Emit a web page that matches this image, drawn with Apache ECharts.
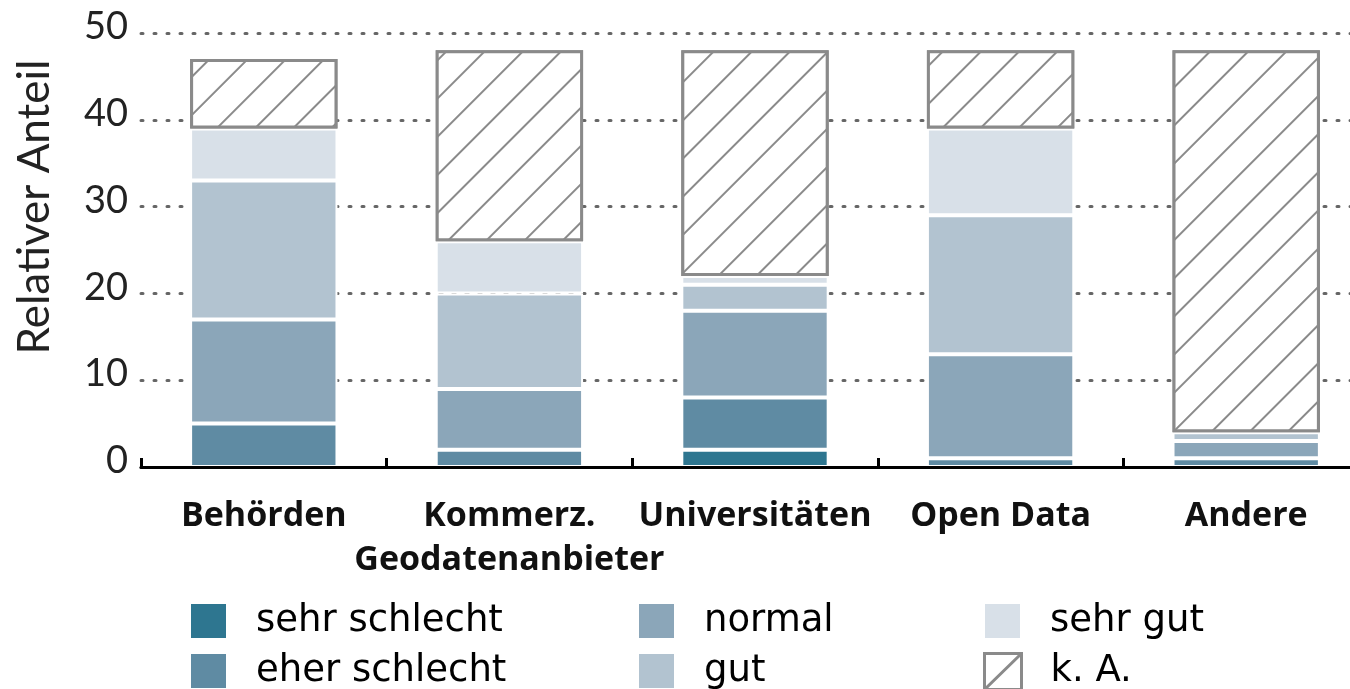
<!DOCTYPE html>
<html>
<head>
<meta charset="utf-8">
<script src="https://cdn.jsdelivr.net/npm/echarts@6/dist/echarts.min.js"></script>
<style>
html,body{margin:0;padding:0;background:#fff;}
#chart{width:1350px;height:689px;}
</style>
</head>
<body>
<div id="chart"></div>
<script>
const categories = ['Behörden', 'Kommerz.\nGeodatenanbieter', 'Universitäten', 'Open Data', 'Andere'];
const sehrSchlecht = [0, 0, 2, 0, 0];
const eherSchlecht = [5, 2, 6, 1, 1];
const normal = [12, 7, 10, 12, 2];
const gut = [16, 11, 3, 16, 1];
const sehrGut = [6, 6, 1, 10, 0];
const keineAngabe = [8, 22, 26, 9, 44];
const yTicks = [0, 10, 20, 30, 40, 50];

const colors = {
  sehrSchlecht: '#2e7690',
  eherSchlecht: '#5f8ba3',
  normal: '#8ba6b9',
  gut: '#b2c3d0',
  sehrGut: '#d8e0e8'
};

const chart = echarts.init(document.getElementById('chart'), null, {renderer: 'canvas'});

function colored(name, data, color) {
  return {
    name: name, type: 'bar', stack: 'all', data: data, barWidth: '60%',
    itemStyle: {color: color, borderColor: '#ffffff', borderWidth: 2},
    emphasis: {disabled: true}
  };
}

const hatch = {
  symbol: 'rect', symbolSize: 1,
  dashArrayX: [1, 0], dashArrayY: [2, 25],
  rotation: -Math.PI / 4,
  color: '#8a8a8a', backgroundColor: '#ffffff'
};

const legendText = {fontFamily: 'DejaVu Sans', fontSize: 37, color: '#000', padding: [0, 0, 0, 24]};
function legendItem(left, top, item) {
  return {
    orient: 'vertical', left: left, top: top, itemWidth: 37, itemHeight: 36, itemGap: 0,
    icon: 'rect', data: [item], textStyle: legendText, selectedMode: false, padding: 0
  };
}

chart.setOption({
  animation: false,
  grid: {left: 141, right: -19, top: 33, bottom: 222, containLabel: false, outerBoundsMode: 'none'},
  legend: [
    legendItem(189, 602, 'sehr schlecht'),
    legendItem(189, 652, 'eher schlecht'),
    legendItem(637, 602, 'normal'),
    legendItem(637, 652, 'gut'),
    legendItem(983, 602, 'sehr gut'),
    legendItem(983, 652, {
      name: 'k. A.',
      icon: 'path://M0,0L37,0L37,36L0,36ZM0,36L37,0',
      itemStyle: {color: '#ffffff', borderColor: '#8a8a8a', borderWidth: 3, decal: 'none'}
    })
  ],
  graphic: [{
    type: 'text', x: 35, y: 207, rotation: Math.PI / 2,
    style: {text: 'Relativer Anteil', font: '44px Lato', fill: '#222', textAlign: 'center', textVerticalAlign: 'middle'}
  }],
  xAxis: {
    type: 'category', data: categories, z: 10,
    axisLine: {lineStyle: {color: '#000', width: 3}},
    axisTick: {show: true, inside: true, length: 9, lineStyle: {color: '#000', width: 3}},
    axisLabel: {fontFamily: 'Open Sans', fontWeight: 'bold', fontSize: 34, color: '#111', margin: 27, lineHeight: 44, interval: 0}
  },
  yAxis: {
    type: 'value', min: 0, max: 50, interval: 10,
    axisLine: {show: false}, axisTick: {show: false},
    axisLabel: {
      margin: 13,
      formatter: function (v) { return '{t|' + v + '}'; },
      rich: {t: {fontFamily: 'Lato', fontSize: 38, color: '#222', padding: [0, 0, 12, 0]}}
    },
    splitLine: {show: true, lineStyle: {color: '#666', width: 3, type: [2, 11], cap: 'round'}}
  },
  series: [
    colored('sehr schlecht', sehrSchlecht, colors.sehrSchlecht),
    colored('eher schlecht', eherSchlecht, colors.eherSchlecht),
    colored('normal', normal, colors.normal),
    colored('gut', gut, colors.gut),
    colored('sehr gut', sehrGut, colors.sehrGut),
    {
      name: 'k. A.', type: 'bar', stack: 'all', data: keineAngabe, barWidth: '60%',
      itemStyle: {color: '#ffffff', borderColor: '#8a8a8a', borderWidth: 3, decal: hatch},
      emphasis: {disabled: true}
    }
  ]
});
</script>
</body>
</html>
